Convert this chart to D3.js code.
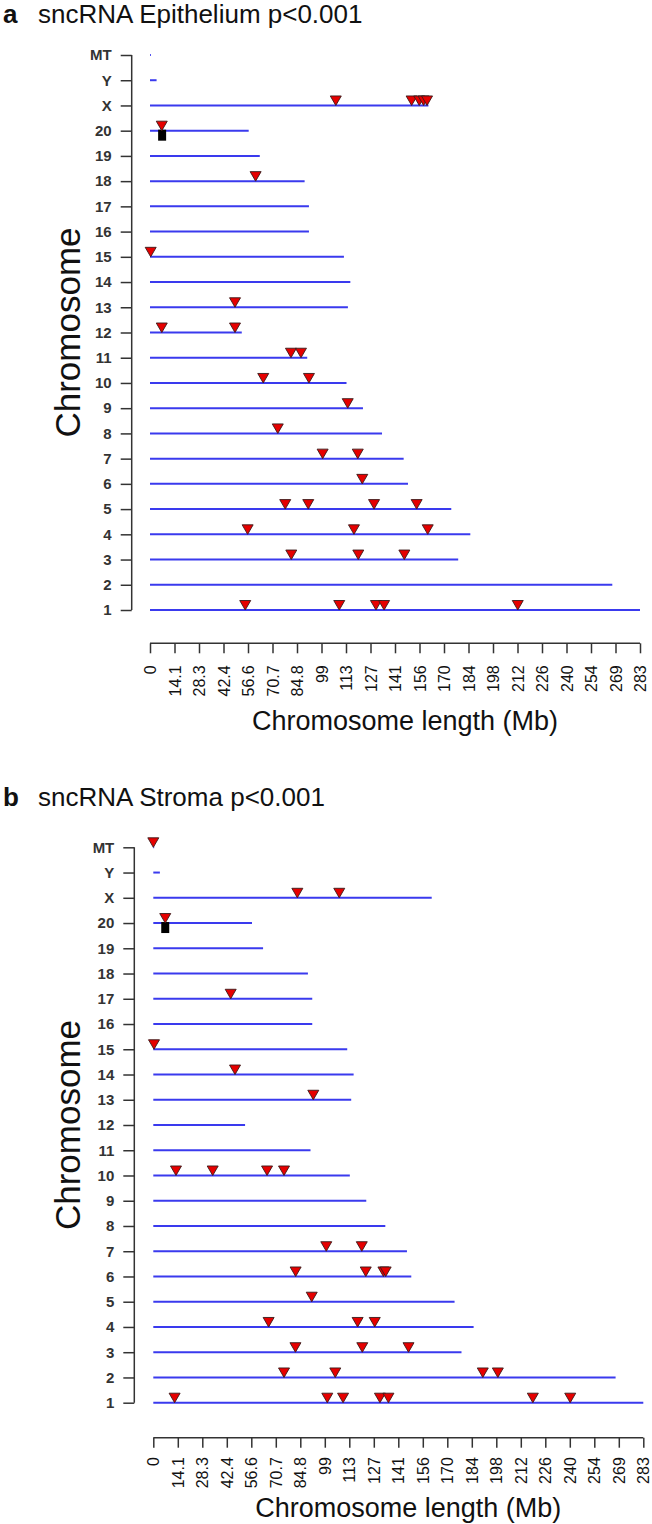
<!DOCTYPE html>
<html>
<meta charset="utf-8">
<style>
  body { margin: 0; background: #fff; }
  text { font-family: "Liberation Sans", Arial, sans-serif; }
</style>
<body>
<script src="https://d3js.org/d3.v7.min.js"></script>
<script>
// chromosome rows, bottom to top
const chromosomes = ["1","2","3","4","5","6","7","8","9","10","11","12","13","14","15","16","17","18","19","20","X","Y","MT"];
// line length of each row (Mb), same order
const chromLength = [283, 267, 178, 185, 174, 149, 146.5, 134, 123, 113.5, 90.8, 53, 114.3, 115.7, 112, 91.8, 91.8, 89.3, 63.4, 57, 160.8, 3.8, 0.5];

const tickLabels = ["0","14.1","28.3","42.4","56.6","70.7","84.8","99","113","127","141","156","170","184","198","212","226","240","254","269","283"];
const axisMax = 283;

// significant sncRNA positions [chromosome, Mb]
const epitheliumHits = [
  ["X",107.3],["X",151.1],["X",155.5],["X",158],["X",160],
  ["20",6.8],["18",61],["15",0.4],["13",49.1],["12",6.8],["12",49.1],
  ["11",81.4],["11",87.2],["10",65.4],["10",91.8],["9",114.2],["8",73.8],
  ["7",99.7],["7",120],["6",122.6],
  ["5",78.1],["5",91.4],["5",129.4],["5",154],
  ["4",56.4],["4",117.8],["4",160.4],
  ["3",81.6],["3",120.3],["3",146.9],
  ["1",55],["1",109.3],["1",130.5],["1",135.2],["1",212.4]
];
const stromaHits = [
  ["MT",0],["X",83.2],["X",107.4],["20",6.9],["17",44.7],["15",0.4],
  ["14",47.2],["13",92.4],
  ["10",13.1],["10",34.3],["10",65.7],["10",75.5],
  ["7",99.9],["7",120.4],
  ["6",82.2],["6",122.7],["6",132.9],["6",134.2],
  ["5",91.5],["4",66.6],["4",118],["4",127.9],
  ["3",82.1],["3",120.7],["3",147.4],
  ["2",75.5],["2",105.1],["2",190.3],["2",199],
  ["1",12.3],["1",100.5],["1",109.6],["1",130.9],["1",135.8],["1",219.2],["1",240.8]
];
// square marks [chromosome, Mb]
const epitheliumSquares = [["20",7]];
const stromaSquares = [["20",6.9]];

const svg = d3.select("body").append("svg")
  .attr("width", 652).attr("height", 1524);

function drawPanel(p) {
  const g = svg.append("g");
  const x = d3.scaleLinear().domain([0, axisMax]).range([p.x0, p.x0 + 490]);
  const y = d3.scalePoint().domain(chromosomes).range([p.rowBottom, p.rowTop]);

  // title
  const t = g.append("text").attr("x", 3).attr("y", p.titleY)
    .attr("font-size", 26).attr("fill", "#111");
  t.append("tspan").attr("font-weight", "bold").text(p.letter);
  t.append("tspan").attr("x", 38).text(p.title);

  // chromosome lines
  g.selectAll(".chr").data(chromosomes).join("line")
    .attr("x1", x(0))
    .attr("x2", (d, i) => x(chromLength[i]))
    .attr("y1", d => y(d)).attr("y2", d => y(d))
    .attr("stroke", "#3a3aee").attr("stroke-width", 2);

  // squares
  g.selectAll(".sq").data(p.squares).join("rect")
    .attr("x", d => x(d[1]) - 4).attr("y", d => y(d[0]) - 1)
    .attr("width", 8).attr("height", 11)
    .attr("fill", "#000");

  // triangles
  g.selectAll(".tri").data(p.hits).join("path")
    .attr("transform", d => `translate(${x(d[1])},${y(d[0])})`)
    .attr("d", "M-5.5,-9.5L5.5,-9.5L0,0Z")
    .attr("fill", "#e60000").attr("stroke", "#3a1a1a").attr("stroke-width", 0.9);

  // y axis
  const ya = g.append("g").attr("transform", `translate(${p.axisX},0)`);
  ya.call(d3.axisLeft(y).tickSize(11).tickPadding(9));
  ya.select(".domain").attr("d", `M0,${y("MT")}V${y("1")}`);
  ya.selectAll("line, .domain").attr("stroke", "#333").attr("stroke-width", 1.5);
  ya.selectAll("text").attr("font-size", 15).attr("font-weight", "bold")
    .attr("fill", "#333").attr("font-family", "Liberation Sans, Arial, sans-serif");

  // x axis
  const tickVals = tickLabels.map((d, i) => i * axisMax / (tickLabels.length - 1));
  const xa = g.append("g").attr("transform", `translate(0,${p.axisY})`);
  xa.call(d3.axisBottom(x).tickValues(tickVals).tickSize(10)
    .tickFormat((d, i) => tickLabels[i]));
  xa.select(".domain").attr("d", `M${x(0)},0H${x(axisMax)}`);
  xa.selectAll("line, .domain").attr("stroke", "#333").attr("stroke-width", 1.5);
  xa.selectAll("text")
    .attr("font-size", 16).attr("fill", "#111")
    .attr("font-family", "Liberation Sans, Arial, sans-serif")
    .attr("text-anchor", "end")
    .attr("transform", `translate(0,${p.labelGap}) rotate(-90)`)
    .attr("x", 0).attr("y", 0).attr("dy", "0.35em");

  // axis titles
  g.append("text").attr("x", (x(0) + x(axisMax)) / 2 + 10).attr("y", p.axisY + p.titleGap)
    .attr("text-anchor", "middle").attr("font-size", 27).attr("fill", "#111")
    .text("Chromosome length (Mb)");
  g.append("text")
    .attr("transform", `translate(80,${(p.rowTop + p.rowBottom) / 2}) rotate(-90)`)
    .attr("text-anchor", "middle").attr("font-size", 35).attr("fill", "#111")
    .text("Chromosome");
}

drawPanel({letter: "a", title: "sncRNA Epithelium p<0.001", titleY: 23,
  rowTop: 55, rowBottom: 610, axisX: 131.7, x0: 150, axisY: 643.3,
  labelGap: 22, titleGap: 87,
  hits: epitheliumHits, squares: epitheliumSquares});
drawPanel({letter: "b", title: "sncRNA Stroma p<0.001", titleY: 806,
  rowTop: 847.3, rowBottom: 1402.7, axisX: 134.3, x0: 153.3, axisY: 1437.7,
  labelGap: 19.5, titleGap: 79,
  hits: stromaHits, squares: stromaSquares});
</script>
</body>
</html>
